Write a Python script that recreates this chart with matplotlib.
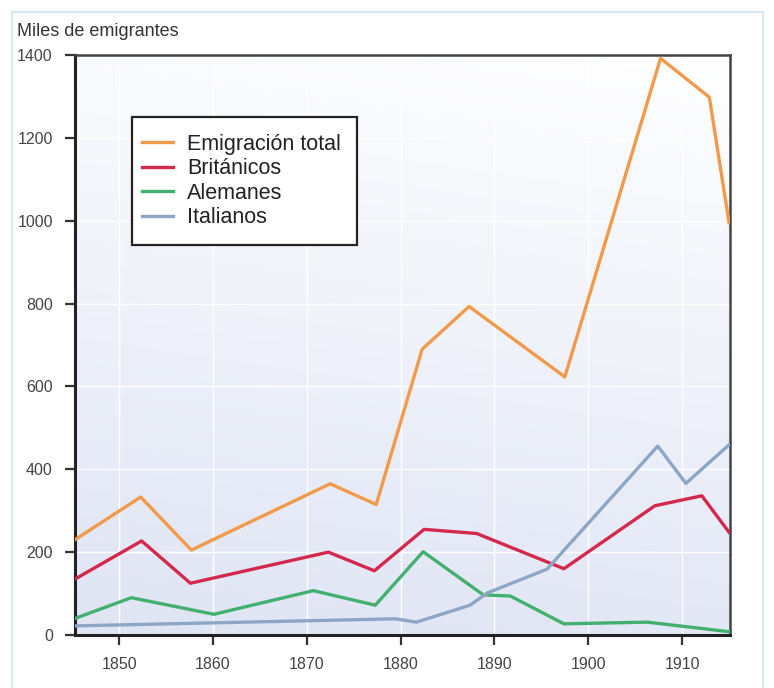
import matplotlib.pyplot as plt
import numpy as np
from matplotlib.patches import Rectangle

plt.rcParams['font.family'] = ['Liberation Sans', 'DejaVu Sans']

# valores (miles de emigrantes)
total_years = [1845.3, 1852.3, 1857.7, 1872.5, 1877.4, 1882.3, 1887.3, 1897.5, 1907.7, 1912.9, 1915.0]
total_vals = [230, 333, 205, 365, 315, 690, 793, 623, 1392, 1298, 995]

brit_years = [1845.3, 1852.4, 1857.6, 1872.3, 1877.2, 1882.5, 1888.1, 1897.4, 1907.1, 1912.1, 1915.0]
brit_vals = [135, 227, 125, 200, 155, 255, 245, 160, 312, 336, 248]

ale_years = [1845.3, 1851.3, 1860.1, 1870.7, 1877.3, 1882.4, 1888.8, 1891.7, 1897.4, 1906.3, 1915.0]
ale_vals = [40, 90, 50, 107, 72, 201, 97, 94, 27, 31, 8]

ita_years = [1845.3, 1879.4, 1881.7, 1887.4, 1889.2, 1895.6, 1907.4, 1910.4, 1915.0]
ita_vals = [22, 39, 31, 72, 101, 159, 456, 366, 459]

x_ticks = [1850, 1860, 1870, 1880, 1890, 1900, 1910]
y_ticks = [0, 200, 400, 600, 800, 1000, 1200, 1400]

fig = plt.figure(figsize=(7.74, 6.88), dpi=100)
fig.patches.append(Rectangle((12 / 774, -0.01), 751 / 774, 1 - 12 / 688 + 0.01, transform=fig.transFigure,
                             fill=False, edgecolor='#cfe5ee', linewidth=1.2))
ax = fig.add_axes([75 / 774, 53 / 688, 655 / 774, 580 / 688])

# fondo degradado del area de trazado
gy, gx = np.mgrid[0:1:200j, 0:1:200j]
grad = np.clip(gy * 0.9 + (1 - gx) * 0.15, 0, 1)
bg = np.ones((200, 200, 3))
low = np.array([0.88, 0.9, 0.96])
for i in range(3):
    bg[:, :, i] = 1 - (1 - low[i]) * grad
ax.imshow(bg, extent=[1845.3, 1915.1, 0, 1400], origin='upper', aspect='auto', zorder=0)

ax.grid(color='white', linewidth=1.0, zorder=1)
ax.plot(total_years, total_vals, color='#f29a4c', lw=2.4, label='Emigración total', zorder=3)
ax.plot(brit_years, brit_vals, color='#d3294d', lw=2.4, label='Británicos', zorder=3)
ax.plot(ale_years, ale_vals, color='#43b06f', lw=2.4, label='Alemanes', zorder=3)
ax.plot(ita_years, ita_vals, color='#8ea6c6', lw=2.4, label='Italianos', zorder=3)

ax.set_xlim(1845.3, 1915.1)
ax.set_ylim(0, 1400)
ax.set_xticks(x_ticks)
ax.set_yticks(y_ticks)
ax.tick_params(axis='both', direction='out', length=7, width=1.6, color='#333333',
               labelsize=11.5, labelcolor='#444444')
ax.tick_params(axis='y', pad=9)
ax.tick_params(axis='x', pad=9)
for side in ['left', 'bottom']:
    ax.spines[side].set_linewidth(2.2)
    ax.spines[side].set_color('#222222')
for side in ['top', 'right']:
    ax.spines[side].set_linewidth(1.8)
    ax.spines[side].set_color('#444444')

fig.text(17 / 774, 1 - 31 / 688, 'Miles de emigrantes', fontsize=13, color='#333333', va='center', ha='left')

# marco de la leyenda dibujado aparte
ax.add_patch(Rectangle((132 / 774, 1 - 245 / 688), 225 / 774, 128 / 688, transform=fig.transFigure,
                       facecolor='white', edgecolor='#222222', linewidth=1.6, zorder=4, clip_on=False))
leg = ax.legend(loc='upper left', bbox_to_anchor=(142 / 774, 1 - 134 / 688), bbox_transform=fig.transFigure,
                borderaxespad=0, borderpad=0, fontsize=15.5, frameon=False, handlelength=1.45,
                handletextpad=0.65, labelspacing=0.16)
leg.set_zorder(6)
for t in leg.get_texts():
    t.set_color('#222222')

plt.savefig('out.png', dpi=100)
